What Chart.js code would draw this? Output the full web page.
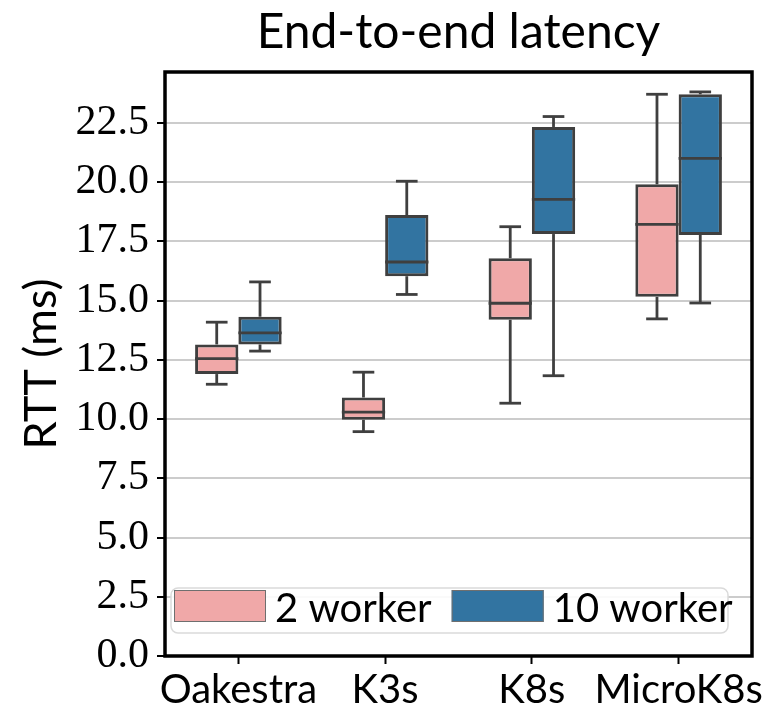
<!DOCTYPE html>
<html>
<head>
<meta charset="utf-8">
<title>End-to-end latency</title>
<script src="https://cdn.jsdelivr.net/npm/chart.js@4.4.0/dist/chart.umd.min.js"></script>
<style>
    html, body { margin: 0; padding: 0; background: #ffffff; }
    #wrap { width: 769px; height: 706px; }
</style>
</head>
<body>
<div id="wrap"><canvas id="latency-chart" width="769" height="706"></canvas></div>
<script>
// Categories and box statistics (RTT in ms)
const categories = ['Oakestra', 'K3s', 'K8s', 'MicroK8s'];

const worker2Min    = [11.47,  9.47, 10.67, 14.23];
const worker2Q1     = [11.90,  9.97, 14.19, 15.16];
const worker2Median = [12.55, 10.29, 14.89, 18.22];
const worker2Q3     = [13.15, 10.91, 16.79, 19.91];
const worker2Max    = [14.09, 11.98, 18.12, 23.71];

const worker10Min    = [12.87, 15.26, 11.83, 14.90];
const worker10Q1     = [13.15, 16.03, 17.81, 17.77];
const worker10Median = [13.64, 16.63, 19.27, 21.00];
const worker10Q3     = [14.32, 18.61, 22.33, 23.71];
const worker10Max    = [15.79, 20.04, 22.77, 23.81];

const yMin = 0;
const yMax = 24.65;
const yStep = 2.5;

const pink = '#f0a8a8';
const blue = '#3274a1';
const edge = '#3f3f3f';

// whiskers + medians drawn on top of the floating bars
const boxWhiskers = {
    id: 'boxWhiskers',
    afterDatasetsDraw(chart) {
        const ctx = chart.ctx;
        const y = chart.scales.y;
        const stats = [
            { min: worker2Min, med: worker2Median, max: worker2Max, q1: worker2Q1, q3: worker2Q3 },
            { min: worker10Min, med: worker10Median, max: worker10Max, q1: worker10Q1, q3: worker10Q3 }
        ];
        ctx.save();
        ctx.strokeStyle = edge;
        ctx.lineWidth = 2.8;
        stats.forEach((s, i) => {
            const meta = chart.getDatasetMeta(i);
            meta.data.forEach((bar, j) => {
                const x = bar.x;
                const half = bar.width / 2;
                const cap = half / 2;
                const seg = (x1, y1, x2, y2) => {
                    ctx.beginPath();
                    ctx.moveTo(x1, y1);
                    ctx.lineTo(x2, y2);
                    ctx.stroke();
                };
                // upper whisker
                seg(x, y.getPixelForValue(s.q3[j]), x, y.getPixelForValue(s.max[j]));
                seg(x - cap, y.getPixelForValue(s.max[j]), x + cap, y.getPixelForValue(s.max[j]));
                // lower whisker
                seg(x, y.getPixelForValue(s.q1[j]), x, y.getPixelForValue(s.min[j]));
                seg(x - cap, y.getPixelForValue(s.min[j]), x + cap, y.getPixelForValue(s.min[j]));
                // median
                seg(x - half, y.getPixelForValue(s.med[j]), x + half, y.getPixelForValue(s.med[j]));
            });
        });
        ctx.restore();
    }
};

// black frame round the plot and the legend inside it
const frameAndLegend = {
    id: 'frameAndLegend',
    afterDraw(chart) {
        const ctx = chart.ctx;
        const a = chart.chartArea;
        ctx.save();
        ctx.strokeStyle = '#000000';
        ctx.lineWidth = 3.5;
        ctx.strokeRect(a.left, a.top, a.right - a.left, a.bottom - a.top);

        // legend box
        const bx = a.left + 6, by = a.bottom - 68, bw = 557, bh = 45;
        ctx.beginPath();
        ctx.roundRect(bx, by, bw, bh, 7);
        ctx.fillStyle = 'rgba(255,255,255,0.9)';
        ctx.fill();
        ctx.strokeStyle = '#dadada';
        ctx.lineWidth = 1.5;
        ctx.stroke();

        ctx.font = '40px Lato';
        ctx.textBaseline = 'alphabetic';
        ctx.textAlign = 'left';
        let x = bx + 3;
        const sy = by + 2;
        chart.data.datasets.forEach(ds => {
            ctx.fillStyle = ds.backgroundColor;
            ctx.fillRect(x, sy, 92, 32);
            ctx.strokeStyle = '#6f6f6f';
            ctx.lineWidth = 1;
            ctx.strokeRect(x + 0.5, sy + 0.5, 91, 31);
            x += 92 + 9;
            ctx.fillStyle = '#000000';
            ctx.fillText(ds.label, x, sy + 32);
            x += ctx.measureText(ds.label).width + 20;
        });
        ctx.restore();
    }
};

new Chart(document.getElementById('latency-chart'), {
    type: 'bar',
    data: {
        labels: categories,
        datasets: [{
            label: '2 worker',
            data: worker2Q1.map((q, i) => [q, worker2Q3[i]]),
            backgroundColor: pink,
            borderColor: edge,
            borderWidth: 3,
            borderSkipped: false
        }, {
            label: '10 worker',
            data: worker10Q1.map((q, i) => [q, worker10Q3[i]]),
            backgroundColor: blue,
            borderColor: edge,
            borderWidth: 3,
            borderSkipped: false
        }]
    },
    options: {
        responsive: false,
        animation: false,
        devicePixelRatio: 1,
        categoryPercentage: 0.59,
        barPercentage: 1.0,
        layout: { padding: { left: 0, right: 17, top: 0, bottom: 0 } },
        scales: {
            x: {
                grid: { display: true, drawOnChartArea: false, offset: false, tickLength: 8, tickColor: '#000', tickWidth: 2 },
                border: { display: false },
                ticks: { font: { family: 'Lato', size: 40 }, color: '#000', padding: 2, maxRotation: 0, autoSkip: false },
                afterFit: s => { s.height = 50; }
            },
            y: {
                min: yMin,
                max: yMax,
                grid: { color: '#cccccc', lineWidth: 2, tickColor: '#000', tickLength: 8, tickWidth: 2 },
                border: { display: false },
                ticks: {
                    stepSize: yStep,
                    includeBounds: false,
                    font: { family: 'Liberation Serif', size: 42 },
                    color: '#000',
                    padding: 8,
                    callback: v => v.toFixed(1)
                },
                title: { display: true, text: 'RTT (ms)', font: { family: 'Lato', size: 45 }, color: '#000', padding: { top: 14, bottom: 0 } },
                afterFit: s => { s.width = 165; }
            }
        },
        plugins: {
            legend: { display: false },
            tooltip: { enabled: false },
            title: {
                display: true,
                text: 'End-to-end latency',
                fullSize: false,
                font: { family: 'Lato', size: 48, weight: 'normal' },
                color: '#000',
                padding: { top: 4, bottom: 10.4 }
            }
        }
    },
    plugins: [boxWhiskers, frameAndLegend]
});
</script>
</body>
</html>
